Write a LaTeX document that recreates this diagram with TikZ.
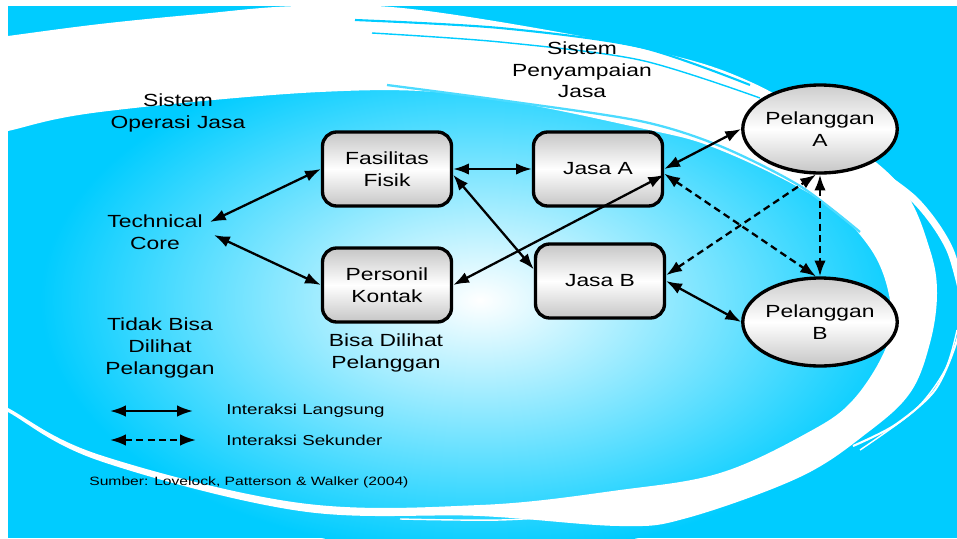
\documentclass[tikz,border=0pt]{standalone}
\usepackage{fontspec}
\setmainfont{Liberation Sans}[FakeStretch=1.3]
\usetikzlibrary{shapes,arrows.meta}
\definecolor{bgcyan}{RGB}{0,204,255}

\begin{document}
\begin{tikzpicture}[x=0.02cm,y=-0.02cm,
  lbl/.style={align=center,inner sep=0pt,font=\fontsize{10}{12.3}\selectfont},
  box/.style={lbl,draw,line width=1.9pt,rounded corners=8pt,
    minimum width=2.58cm,minimum height=1.48cm,
    top color=gray!45,bottom color=gray!45,middle color=white},
  cust/.style={lbl,ellipse,draw,line width=1.9pt,
    minimum width=2.94cm,minimum height=1.76cm,
    top color=gray!40,bottom color=gray!45,middle color=white},
  link/.style={{Latex[length=9pt,width=6.5pt]}-{Latex[length=9pt,width=6.5pt]},line width=1.3pt},
  sec/.style={link,dash pattern=on 4pt off 2.5pt},
  leg/.style={font=\fontsize{8.2}{10}\selectfont,inner sep=0pt}]

  \useasboundingbox (0,0) rectangle (957,538);
  \fill[white] (0,0) rectangle (957,538);

% background with the swoosh
  \begin{scope}
    \clip (8,6) rectangle (957,538);
    \fill[bgcyan] (8,6) rectangle (957,538);
    \shade[inner color=white,outer color=bgcyan] (480,300) ellipse (440 and 255);
    % main white band (outer edge, then inner edge back)
    \fill[white] plot[smooth,tension=0.6] coordinates {
      (-20,40) (8,36) (100,24) (200,14) (300,6) (420,10) (640,48) (753,83)
      (853,145) (905,192) (930,250) (937,293) (930,343) (910,393) (867,433)
      (800,477) (687,518) (620,526) (480,516) (300,511) (100,461) (8,412) (-20,396)}
      -- plot[smooth,tension=0.6] coordinates {
      (-20,392) (8,408) (100,455) (300,503) (480,505) (620,490) (720,473)
      (807,433) (853,400) (887,345) (890,300) (870,248) (820,200) (720,150)
      (640,128) (467,95) (320,92) (100,112) (8,131) (-20,138)} -- cycle;
    % streaks inside the band
    \draw[bgcyan,line width=1.2pt] plot[smooth] coordinates {(355,20) (500,28) (640,47) (750,85)};
    \draw[bgcyan,line width=0.8pt] plot[smooth] coordinates {(372,33) (500,42) (640,60) (760,98)};
    \draw[bgcyan!70,line width=1.3pt] plot[smooth] coordinates {(387,85) (500,100) (640,121) (720,146) (800,186) (860,232)};
    % outer white streaks at the right
    \draw[white,line width=4pt] plot[smooth] coordinates {(860,160) (915,200) (950,250) (968,320)};
    \draw[white,line width=1.2pt] plot[smooth] coordinates {(962,300) (957,340) (935,390) (895,425) (853,446)};
    \draw[white,line width=0.8pt] plot[smooth] coordinates {(957,330) (945,370) (915,410) (860,450)};
    % thin line below the band tail
    \draw[white,line width=0.8pt] plot[smooth] coordinates {(400,519) (500,520) (600,514)};
  \end{scope}

% text labels
  \node[lbl] (sop) at (178,113) {Sistem\\Operasi Jasa};
  \node[lbl] (spj) at (582,70) {Sistem\\Penyampaian\\Jasa};
  \node[lbl] (tc) at (155,232) {Technical\\Core};
  \node[lbl] (tbd) at (160,348) {Tidak Bisa\\Dilihat\\Pelanggan};
  \node[lbl] (bdp) at (386,353) {Bisa Dilihat\\Pelanggan};

% boxes and customers
  \node[box] (fas) at (387,169) {Fasilitas\\Fisik};
  \node[box] (per) at (387,285) {Personil\\Kontak};
  \node[box] (ja) at (598,169) {Jasa A};
  \node[box] (jb) at (600,281) {Jasa B};
  \node[cust] (pa) at (820,129) {Pelanggan\\A};
  \node[cust] (pb) at (820,322) {Pelanggan\\B};

% direct interaction
  \coordinate (tcup) at ([shift={(7,-10)}]tc.east);
  \coordinate (tclo) at ([shift={(11,3)}]tc.east);
  \draw[link] (tcup) -- (fas.west);
  \draw[link] (tclo) -- (per.west);
  \draw[link] (fas.east) -- (ja.west);
  \draw[link] (fas.-5) -- (jb.170);
  \draw[link] (per.east) -- (ja.-5);
  \draw[link] (ja.east) -- (pa.west);
  \draw[link] (jb.east) -- (pb.west);

% secondary interaction
  \draw[sec] (ja.-4) -- (pb.95);
  \draw[sec] (jb.5) -- (pa.265);
  \draw[sec] (pa.south) -- (pb.north);

% legend
  \coordinate (l1a) at (110,411);
  \coordinate (l1b) at (193,411);
  \coordinate (l2a) at (110,440);
  \coordinate (l2b) at (196,440);
  \draw[link] (l1a) -- (l1b);
  \draw[sec] (l2a) -- (l2b);
  \node[leg,anchor=west] (l1t) at (226,411) {Interaksi Langsung};
  \node[leg,anchor=west] (l2t) at (226,440) {Interaksi Sekunder};
  \node[leg,anchor=west,font=\fontsize{6.85}{8}\selectfont] (src) at (89,482)
    {Sumber: Lovelock, Patterson \& Walker (2004)};

\end{tikzpicture}
\end{document}
